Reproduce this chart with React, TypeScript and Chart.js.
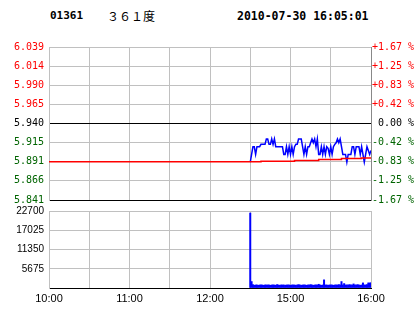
import React, { useEffect, useRef } from 'react';
import { Chart, registerables } from 'chart.js';
Chart.register(...registerables);

const stockCode = '01361';
const stockName = '３６１度';
const timestamp = '2010-07-30 16:05:01';

const priceTickLabels = ['6.039', '6.014', '5.990', '5.965', '5.940', '5.915', '5.891', '5.866', '5.841'];
const pctTickLabels = ['+1.67 %', '+1.25 %', '+0.83 %', '+0.42 %', ' 0.00 %', '-0.42 %', '-0.83 %', '-1.25 %', '-1.67 %'];
const priceMin = 5.841;
const priceMax = 6.039;
const prevClose = 5.94;

const volumeTickLabels = ['22700', '17025', '11350', '5675', ''];
const volumeMax = 22700;

const timeTickLabels = ['10:00', '', '11:00', '', '12:00', '', '15:00', '', '16:00'];
const sessionMinutes = 240;
const afternoonStart = 150;

const priceAfternoon = [
  5.890, 5.900, 5.910, 5.910, 5.900, 5.910, 5.910, 5.910, 5.913, 5.913,
  5.913, 5.913, 5.920, 5.920, 5.913, 5.913, 5.920, 5.913, 5.920, 5.910,
  5.910, 5.910, 5.910, 5.910, 5.910, 5.900, 5.900, 5.910, 5.900, 5.910,
  5.900, 5.910, 5.900, 5.910, 5.913, 5.913, 5.920, 5.920, 5.920, 5.910,
  5.900, 5.910, 5.900, 5.910, 5.910, 5.915, 5.920, 5.915, 5.920, 5.910,
  5.920, 5.900, 5.900, 5.910, 5.900, 5.910, 5.900, 5.910, 5.908, 5.900,
  5.910, 5.900, 5.910, 5.913, 5.915, 5.920, 5.915, 5.920, 5.910, 5.900,
  5.900, 5.900, 5.890, 5.900, 5.900, 5.900, 5.910, 5.910, 5.900, 5.910,
  5.910, 5.910, 5.900, 5.910, 5.900, 5.890, 5.900, 5.910, 5.905, 5.900,
  5.905,
];

const avgTimes = [0, 158, 183, 201, 218, 233, 240];
const avgValues = [5.8905, 5.8913, 5.8922, 5.8934, 5.8947, 5.8955, 5.8955];

const volumeAfternoon = [
  22100, 1900, 1000, 800, 900, 900, 800, 900, 900, 900,
  800, 900, 900, 900, 900, 800, 900, 900, 900, 800,
  1000, 900, 800, 900, 900, 900, 800, 900, 900, 900,
  800, 900, 900, 900, 800, 900, 1000, 900, 800, 900,
  900, 900, 800, 900, 900, 1000, 900, 800, 900, 900,
  900, 1100, 900, 800, 900, 2400, 900, 900, 800, 900,
  900, 900, 800, 900, 900, 900, 1000, 900, 1900, 900,
  1300, 900, 900, 900, 1000, 900, 900, 1200, 900, 900,
  1000, 900, 800, 900, 1500, 900, 900, 1000, 1500, 1500,
  1500,
];

const RED = '#ff0000';
const GREEN = '#006400';
const GRID = '#c0c0c0';
const BLUE = '#0000ff';

const labelColor = (i: number) => (i < 4 ? RED : i === 4 ? '#000000' : GREEN);

const timeTicks = (scale: any) => {
  scale.ticks = timeTickLabels.map((_, i) => ({ value: (i * sessionMinutes) / (timeTickLabels.length - 1) }));
};

export default function App() {
  const priceRef = useRef<HTMLCanvasElement>(null);
  const volRef = useRef<HTMLCanvasElement>(null);

  useEffect(() => {
    const n = priceTickLabels.length - 1;
    const pctMin = ((priceMin - prevClose) / prevClose) * 100;
    const pctMax = ((priceMax - prevClose) / prevClose) * 100;

    const priceChart = new Chart(priceRef.current!, {
      type: 'line',
      data: {
        datasets: [
          {
            label: 'avg',
            data: avgTimes.map((t, i) => ({ x: t, y: avgValues[i] })),
            borderColor: RED,
            borderWidth: 1.5,
            pointRadius: 0,
            stepped: true,
            yAxisID: 'y',
          },
          {
            label: 'price',
            data: priceAfternoon.map((v, i) => ({ x: afternoonStart + i, y: v })),
            borderColor: BLUE,
            borderWidth: 1.5,
            pointRadius: 0,
            tension: 0,
            yAxisID: 'y',
          },
        ],
      },
      options: {
        animation: false,
        responsive: false,
        events: [],
        layout: { padding: { top: 8, bottom: 8, left: 0, right: 0 } },
        plugins: { legend: { display: false }, tooltip: { enabled: false } },
        scales: {
          x: {
            type: 'linear',
            min: 0,
            max: sessionMinutes,
            afterBuildTicks: timeTicks,
            afterFit: (s: any) => { s.height = 0; },
            grid: { color: GRID, drawTicks: false },
            border: { color: '#000000' },
            ticks: { display: false },
          },
          y: {
            type: 'linear',
            position: 'left',
            min: priceMin,
            max: priceMax,
            afterBuildTicks: (s: any) => {
              s.ticks = priceTickLabels.map((_, i) => ({ value: priceMin + (i * (priceMax - priceMin)) / n }));
            },
            afterFit: (s: any) => { s.width = 49; },
            grid: {
              drawTicks: false,
              color: (ctx: any) => (ctx.index === 0 || ctx.index === 4 ? '#000000' : GRID),
            },
            border: { color: GRID },
            ticks: {
              padding: 5,
              font: { family: 'DejaVu Sans Mono', size: 10 },
              color: (ctx: any) => labelColor(n - ctx.index),
              callback: (_v: any, i: number) => priceTickLabels[n - i],
            },
          },
          pct: {
            type: 'linear',
            position: 'right',
            min: pctMin,
            max: pctMax,
            afterBuildTicks: (s: any) => {
              s.ticks = pctTickLabels.map((_, i) => ({ value: pctMin + (i * (pctMax - pctMin)) / n }));
            },
            afterFit: (s: any) => { s.width = 43; },
            grid: { drawTicks: false, drawOnChartArea: false },
            border: { color: '#888888' },
            ticks: {
              padding: 1,
              font: { family: 'DejaVu Sans Mono', size: 10 },
              color: (ctx: any) => labelColor(n - ctx.index),
              callback: (_v: any, i: number) => pctTickLabels[n - i],
            },
          },
        },
      },
    });

    const vn = volumeTickLabels.length - 1;
    const volChart = new Chart(volRef.current!, {
      type: 'bar',
      data: {
        datasets: [
          {
            label: 'volume',
            data: volumeAfternoon.map((v, i) => ({ x: afternoonStart + i, y: v })),
            backgroundColor: BLUE,
            borderWidth: 0,
            barPercentage: 1,
            categoryPercentage: 1,
          },
        ],
      },
      options: {
        animation: false,
        responsive: false,
        events: [],
        layout: { padding: { top: 9, bottom: 0, left: 0, right: 43 } },
        plugins: { legend: { display: false }, tooltip: { enabled: false } },
        scales: {
          x: {
            type: 'linear',
            min: 0,
            max: sessionMinutes,
            offset: false,
            afterBuildTicks: timeTicks,
            afterFit: (s: any) => { s.height = 26; },
            grid: { color: GRID, drawTicks: false, offset: false },
            border: { color: '#000000' },
            ticks: {
              autoSkip: false,
              maxRotation: 0,
              padding: 4,
              font: { family: 'Liberation Sans', size: 11 },
              color: '#000000',
              callback: (_v: any, i: number) => timeTickLabels[i],
            },
          },
          y: {
            type: 'linear',
            min: 0,
            max: volumeMax,
            afterBuildTicks: (s: any) => {
              s.ticks = volumeTickLabels.map((_, i) => ({ value: (i * volumeMax) / vn }));
            },
            afterFit: (s: any) => { s.width = 49; },
            grid: {
              drawTicks: false,
              color: (ctx: any) => (ctx.index === 0 ? '#000000' : GRID),
            },
            border: { color: GRID },
            ticks: {
              padding: 5,
              font: { family: 'Liberation Sans', size: 10 },
              color: '#000000',
              callback: (_v: any, i: number) => volumeTickLabels[vn - i],
            },
          },
        },
      },
    });

    return () => {
      priceChart.destroy();
      volChart.destroy();
    };
  }, []);

  return (
    <div style={{ position: 'fixed', left: 0, top: 0, width: 414, height: 314, background: '#ffffff', overflow: 'hidden' }}>
      <div style={{ position: 'absolute', left: 50, top: 10, fontFamily: 'DejaVu Sans Mono', fontWeight: 'bold', fontSize: 11, lineHeight: '12px', color: '#000' }}>
        {stockCode}
      </div>
      <div style={{ position: 'absolute', left: 107, top: 9, fontFamily: 'Noto Sans CJK TC', fontSize: 12, lineHeight: '14px', color: '#000' }}>
        {stockName}
      </div>
      <div style={{ position: 'absolute', left: 237, top: 10, fontFamily: 'DejaVu Sans Mono', fontWeight: 'bold', fontSize: 11.5, lineHeight: '12px', color: '#000' }}>
        {timestamp}
      </div>
      <canvas ref={priceRef} width={414} height={175} style={{ position: 'absolute', left: 0, top: 36, width: 414, height: 175 }} />
      <canvas ref={volRef} width={414} height={114} style={{ position: 'absolute', left: 0, top: 200, width: 414, height: 114 }} />
    </div>
  );
}
